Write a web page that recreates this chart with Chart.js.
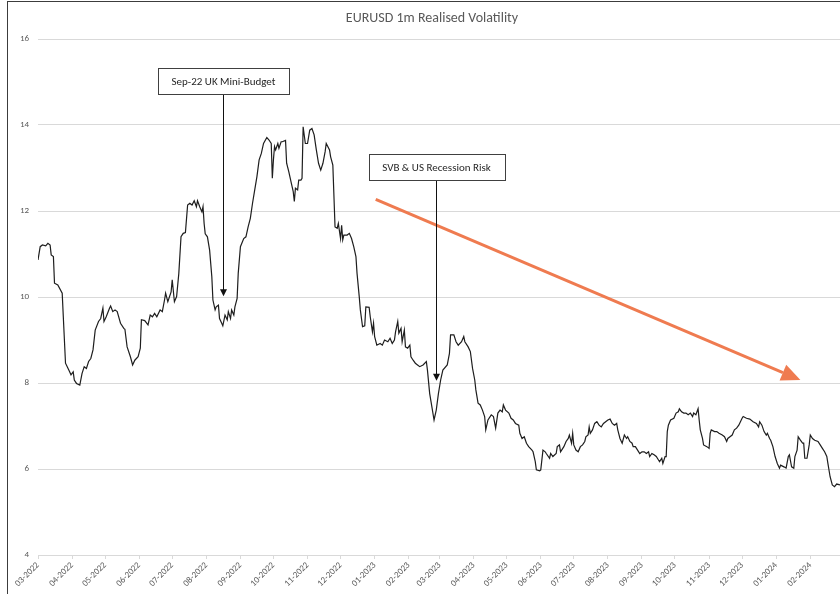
<!DOCTYPE html>
<html><head><meta charset="utf-8">
<script src="https://cdn.jsdelivr.net/npm/chart.js@4.4.1/dist/chart.umd.min.js"></script>
<style>
html,body{margin:0;padding:0;background:#fff;overflow:hidden;width:840px;height:594px;}
#wrap{position:absolute;left:0;top:0;width:840px;height:594px;overflow:hidden;}
#frame{position:absolute;left:7px;top:1px;width:900px;height:700px;border-left:1px solid #3c3c3c;border-top:1px solid #3c3c3c;pointer-events:none;}
canvas{position:absolute;left:0;top:0;}
</style></head><body>
<div id="wrap"><canvas id="c" width="840" height="594"></canvas><div id="frame"></div></div>
<script>
// Month tick labels (MM-YYYY)
const monthLabels = ['03-2022','04-2022','05-2022','06-2022','07-2022','08-2022','09-2022','10-2022','11-2022','12-2022',
  '01-2023','02-2023','03-2023','04-2023','05-2023','06-2023','07-2023','08-2023','09-2023','10-2023','11-2023','12-2023',
  '01-2024','02-2024'];

// Observation dates, as days since 2022-03-01
const dayOffset = [
  0,2,4,7,9,11,12,14,15,18, 22,23,25,28,30,32,33,35,38,40,
  42,44,46,48,50,52,55,57,59,60, 62,65,66,68,70,72,75,78,79,81,
  84,86,88,91,93,94,97,100,102,104, 106,108,111,113,115,116,118,121,122,124,
  126,128,130,132,134,136,138,140,142,144, 145,147,149,150,151,152,154,156,158,159,
  161,162,164,165,167,168,170,172,173,175, 176,178,179,181,182,184,187,189,191,193,
  195,197,199,201,203,205,208,210,212,213, 214,215,216,218,219,221,222,225,226,228,
  230,232,233,234,236,237,239,240,241,243, 245,247,249,251,253,255,257,259,261,262,
  265,266,268,270,272,273,275,276,277,278, 281,283,285,287,289,290,292,293,295,297,
  298,301,302,304,305,306,308,311,313,315, 318,320,322,324,325,327,328,330,331,333,
  334,336,338,339,341,343,345,347,350,353, 354,356,358,360,362,364,366,368,372,374,
  375,378,380,382,385,387,388,391,393,395, 397,398,400,402,404,406,407,409,412,414,
  416,418,420,422,423,425,428,430,432,434, 437,438,440,442,444,446,449,450,452,453,
  456,457,459,461,462,465,466,468,471,472, 474,475,478,480,482,483,485,486,487,489,
  491,493,495,497,498,500,501,502,504,506, 508,510,512,514,516,518,520,522,524,526,
  527,529,531,533,535,536,538,540,541,543, 545,547,549,551,553,555,556,558,560,562,
  564,565,567,568,570,571,572,573,575,578, 580,582,583,585,587,589,591,593,595,596,
  598,600,601,602,604,605,608,610,611,612, 615,617,619,622,624,626,627,629,631,633,
  635,637,640,641,644,647,650,653,655,656, 658,660,662,663,665,666,668,670,672,674,
  675,678,680,682,683,685,687,688,690,691, 693,695,696,697,699,701,702,704,706,709,
  711,713,715,717,718,720,722,724,726,729
];

// EURUSD 1m realised volatility (%)
const realisedVol = [
  10.86,11.17,11.21,11.19,11.25,11.21,10.98,10.94,10.32,10.28, 10.09,9.54,8.46,8.30,8.19,8.26,8.07,7.99,7.95,8.22,
  8.38,8.34,8.50,8.57,8.77,9.23,9.43,9.50,9.74,9.43, 9.54,9.74,9.79,9.66,9.70,9.66,9.39,9.27,9.25,8.84,
  8.61,8.42,8.53,8.61,8.81,9.47,9.45,9.35,9.58,9.54, 9.62,9.54,9.70,9.66,9.93,10.09,9.89,10.12,10.40,9.89,
  10.01,10.55,11.40,11.48,11.50,12.14,12.18,12.14,12.24,12.10, 12.24,12.10,11.98,12.10,11.71,11.47,11.40,11.09,10.47,9.93,
  9.70,9.77,9.81,9.50,9.39,9.33,9.58,9.47,9.66,9.50, 9.70,9.58,9.77,9.97,10.55,11.17,11.36,11.40,11.63,11.83,
  12.18,12.49,12.80,13.19,13.34,13.57,13.71,13.65,13.57,12.76, 13.19,13.50,13.42,13.57,13.46,13.61,13.61,13.64,13.11,12.91,
  12.68,12.45,12.22,12.53,12.49,12.72,12.72,12.76,13.96,13.57, 13.57,13.88,13.92,13.77,13.42,13.11,12.95,13.11,13.38,13.57,
  13.42,13.26,13.07,11.63,11.60,11.71,11.36,11.67,11.33,11.44, 11.44,11.48,11.36,11.17,10.94,10.55,10.01,9.70,9.31,9.33,
  9.77,9.76,9.54,9.19,9.39,9.08,8.88,8.92,8.88,9.00, 8.96,9.04,8.92,9.00,9.19,9.43,9.16,9.27,8.96,9.23,
  8.84,8.81,8.88,8.61,8.53,8.46,8.42,8.38,8.42,8.50, 8.30,7.76,7.45,7.14,7.37,7.76,8.07,8.30,8.42,8.69,
  9.12,9.12,8.96,8.88,8.96,9.08,8.96,8.84,8.73,8.34, 8.07,7.84,7.53,7.49,7.37,7.22,6.91,7.14,7.26,7.22,
  6.95,7.30,7.37,7.33,7.49,7.37,7.30,7.18,7.14,7.06, 7.02,6.83,6.71,6.75,6.60,6.52,6.44,6.40,6.17,5.98,
  5.96,5.98,6.44,6.40,6.36,6.25,6.36,6.29,6.36,6.52, 6.56,6.40,6.52,6.64,6.71,6.79,6.60,6.83,6.56,6.44,
  6.40,6.52,6.56,6.64,6.75,6.79,6.98,6.83,6.91,7.06, 7.10,7.02,6.98,7.06,7.10,7.14,7.16,7.06,7.02,7.06,
  6.91,6.71,6.60,6.79,6.71,6.75,6.64,6.60,6.52,6.52, 6.44,6.36,6.40,6.40,6.36,6.40,6.29,6.36,6.33,6.29,
  6.21,6.17,6.25,6.13,6.29,6.29,6.87,7.02,7.14,7.18, 7.30,7.33,7.40,7.33,7.30,7.30,7.26,7.30,7.22,7.30,
  7.26,7.40,7.14,6.91,6.71,6.56,6.52,6.48,6.83,6.91, 6.87,6.87,6.83,6.79,6.75,6.64,6.71,6.75,6.79,6.91,
  6.95,7.02,7.18,7.22,7.18,7.16,7.10,7.06,6.98,7.10, 7.02,6.87,6.79,6.83,6.71,6.67,6.52,6.29,6.13,6.02,
  6.09,6.05,6.02,6.29,6.33,6.05,6.02,6.29,6.44,6.75, 6.67,6.60,6.60,6.25,6.25,6.56,6.79,6.71,6.67,6.64,
  6.56,6.48,6.40,6.29,6.13,5.82,5.63,5.59,5.65,5.63
];

// Y axis ticks
const yTicks = [4, 6, 8, 10, 12, 14, 16];

// Callouts anchored in data space (day offset, value)
const callouts = [
  { text: 'Sep-22 UK Mini-Budget', day: 168, boxValue: 15.02, tipValue: 10.02 },
  { text: 'SVB & US Recession Risk', day: 362, boxValue: 13.03, tipValue: 8.05 }
];
const trendArrow = { fromDay: 307, fromValue: 12.27, toDay: 693, toValue: 8.07 };

const DAY_MS = 86400000;
const base = Date.UTC(2022, 2, 1);
const monthDays = monthLabels.map(l => {
  const [m, y] = l.split('-').map(Number);
  return Math.round((Date.UTC(y, m - 1, 1) - base) / DAY_MS);
});

const FONT = 'Carlito, Lato, "Liberation Sans", sans-serif';

const overlay = {
  id: 'overlay',
  afterDatasetsDraw(chart) {
    const ctx = chart.ctx, xs = chart.scales.x, ys = chart.scales.y;
    ctx.save();
    // trend arrow
    const x1 = xs.getPixelForValue(trendArrow.fromDay), y1 = ys.getPixelForValue(trendArrow.fromValue);
    const x2 = xs.getPixelForValue(trendArrow.toDay), y2 = ys.getPixelForValue(trendArrow.toValue);
    const ang = Math.atan2(y2 - y1, x2 - x1);
    const headLen = 19, headW = 8.5;
    const bx = x2 - headLen * Math.cos(ang), by = y2 - headLen * Math.sin(ang);
    ctx.strokeStyle = '#EF7B50'; ctx.fillStyle = '#EF7B50'; ctx.lineWidth = 3;
    ctx.beginPath(); ctx.moveTo(x1, y1); ctx.lineTo(bx, by); ctx.stroke();
    ctx.beginPath(); ctx.moveTo(x2, y2);
    ctx.lineTo(bx + headW * Math.sin(ang), by - headW * Math.cos(ang));
    ctx.lineTo(bx - headW * Math.sin(ang), by + headW * Math.cos(ang));
    ctx.closePath(); ctx.fill();

    // callouts
    ctx.font = '11px ' + FONT;
    callouts.forEach(c => {
      const cx = Math.round(xs.getPixelForValue(c.day)) + 0.5;
      const cy = ys.getPixelForValue(c.boxValue);
      const tip = ys.getPixelForValue(c.tipValue);
      const tw = ctx.measureText(c.text).width;
      const w = Math.round(tw + 27), h = 26;
      const left = Math.round(cx - w / 2) + 0.5, top = Math.round(cy - h / 2) + 0.5;
      // arrow
      ctx.strokeStyle = '#111'; ctx.fillStyle = '#111'; ctx.lineWidth = 1;
      ctx.beginPath(); ctx.moveTo(cx, top + h); ctx.lineTo(cx, tip - 6); ctx.stroke();
      ctx.beginPath(); ctx.moveTo(cx, tip); ctx.lineTo(cx - 3.5, tip - 7); ctx.lineTo(cx + 3.5, tip - 7); ctx.closePath(); ctx.fill();
      // box
      ctx.fillStyle = '#fff'; ctx.fillRect(left, top, w, h);
      ctx.strokeStyle = '#404040'; ctx.strokeRect(left, top, w, h);
      ctx.fillStyle = '#262626'; ctx.textAlign = 'center'; ctx.textBaseline = 'middle';
      ctx.fillText(c.text, cx, top + h / 2 + 0.5);
    });

    // title
    ctx.font = '14px ' + FONT;
    ctx.fillStyle = '#595959'; ctx.textAlign = 'center'; ctx.textBaseline = 'middle';
    ctx.fillText('EURUSD 1m Realised Volatility', 432, 18);
    ctx.restore();
  }
};

new Chart(document.getElementById('c'), {
  type: 'line',
  data: {
    datasets: [{
      data: dayOffset.map((d, i) => ({ x: d, y: realisedVol[i] })),
      borderColor: '#1e1e1e', borderWidth: 1.2, pointRadius: 0, tension: 0, fill: false
    }]
  },
  options: {
    responsive: false, animation: false, devicePixelRatio: 1,
    layout: { padding: { left: 7, right: 0, top: 39, bottom: 0 } },
    plugins: { legend: { display: false }, tooltip: { enabled: false }, title: { display: false } },
    scales: {
      x: {
        type: 'linear', min: 0, max: 729,
        afterBuildTicks: s => { s.ticks = monthDays.map(v => ({ value: v })); },
        afterFit: s => { s.height = 39; },
        ticks: {
          autoSkip: false, maxRotation: 45, minRotation: 45, padding: 1,
          color: '#595959', font: { family: FONT, size: 9 },
          callback: (v, i) => monthLabels[i]
        },
        grid: { drawOnChartArea: false, color: '#d9d9d9', tickLength: 4 },
        border: { color: '#d9d9d9' }
      },
      y: {
        min: 4, max: 16,
        afterBuildTicks: s => { s.ticks = yTicks.map(v => ({ value: v })); },
        afterFit: s => { s.width = 31; },
        ticks: { color: '#595959', font: { family: FONT, size: 9 }, padding: 9 },
        grid: { color: '#d9d9d9', drawTicks: false },
        border: { display: false }
      }
    }
  },
  plugins: [overlay]
});
</script>
</body></html>
